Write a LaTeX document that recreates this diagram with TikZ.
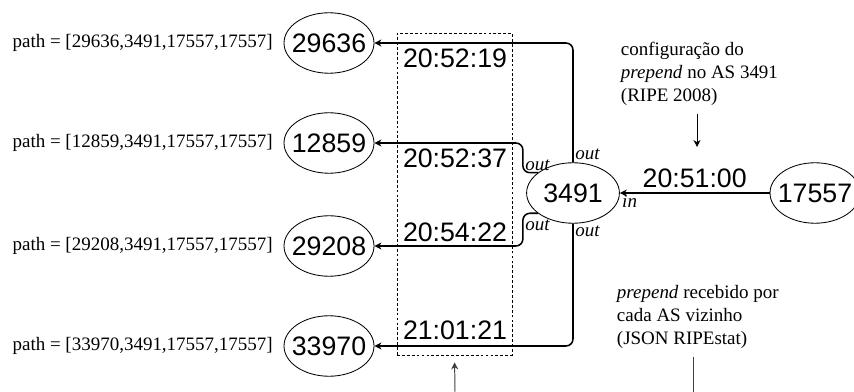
\documentclass[tikz,border=0pt]{standalone}
\usepackage{fontspec}
\setmainfont{Liberation Serif}
\newfontfamily\asfont{Liberation Sans}
\usetikzlibrary{arrows.meta, positioning, shapes.geometric}

\begin{document}
\begin{tikzpicture}[
  x=0.025cm, y=-0.025cm,
  >={Stealth[length=5pt, width=5pt]},
  asnode/.style={ellipse, draw, line width=0.6pt, minimum width=64pt,
    minimum height=43pt, inner xsep=-4pt, inner ysep=0pt,
    font=\asfont\fontsize{19}{21}\selectfont},
  timelabel/.style={font=\asfont\fontsize{19}{21}\selectfont, inner sep=0pt},
  pathlabel/.style={font=\fontsize{13.5}{16}\selectfont, anchor=east, inner sep=0pt},
  port/.style={font=\itshape\fontsize{13.5}{16}\selectfont, inner sep=1.5pt},
  note/.style={font=\fontsize{13.5}{16.4}\selectfont, align=left},
  link/.style={->, line width=1.1pt, rounded corners=5pt},
  pointer/.style={line width=0.7pt},
]

\useasboundingbox (0,0) rectangle (854,392);

% === Neighbour ASes ===
\node[asnode] (as29636) at (329,43) {29636};
\node[asnode] (as12859) at (329,143) {12859};
\node[asnode] (as29208) at (329,246) {29208};
\node[asnode] (as33970) at (329,346) {33970};

% AS paths seen by each neighbour
\node[pathlabel] (p29636) at (273,43) {path = [29636,3491,17557,17557]};
\node[pathlabel] (p12859) at (273,143) {path = [12859,3491,17557,17557]};
\node[pathlabel] (p29208) at (273,246) {path = [29208,3491,17557,17557]};
\node[pathlabel] (p33970) at (273,346) {path = [33970,3491,17557,17557]};

% === Origin and transit ===
\node[asnode, minimum width=66pt] (as3491) at (573,193) {3491};
\node[asnode] (as17557) at (815,193) {17557};

% Time window
\node[draw, dash pattern=on 2pt off 1.5pt, line width=0.5pt, minimum width=81.8pt,
  minimum height=229pt, inner sep=0pt] (window) at (454.5,194) {};

% === Announcements ===
\draw[link] (as17557.west) -- (as3491.east)
  node[midway, above=3pt, timelabel] (t0) {20:51:00};
\node[port, below right] (in) at (as3491.east) {in};

\draw[link] (as3491.north) -- (as3491.north |- as29636.east) -- (as29636.east);
\node[port, above right] at (as3491.north) {out};

\draw[link] (as3491.150) -- ++(-15,0) coordinate (c2) |- (as12859.east);
\node[port, above right] at (c2) {out};

\draw[link] (as3491.210) -- ++(-15,0) coordinate (c3) |- (as29208.east);
\node[port, below right, yshift=-3pt] at (c3) {out};

\draw[link] (as3491.south) -- (as3491.south |- as33970.east) -- (as33970.east);
\node[port, below right] at (as3491.south) {out};

% Timestamps at each neighbour
\node[timelabel] (t1) at (455,58) {20:52:19};
\node[timelabel] (t2) at (455,158) {20:52:37};
\node[timelabel] (t3) at (455,232) {20:54:22};
\node[timelabel] (t4) at (455,330) {21:01:21};

% === Notes ===
\node[note, anchor=west] (cfgnote) at (616,74)
  {configuração do\\\textit{prepend} no AS 3491\\(RIPE 2008)};
\coordinate (cfgtip) at (697,147);
\draw[pointer, ->] (cfgnote.south -| cfgtip) ++(0,3) -- (cfgtip);

\node[note, anchor=west] (rcvnote) at (612,317)
  {\textit{prepend} recebido por\\cada AS vizinho\\(JSON RIPEstat)};
\coordinate (rcvend) at (693,392);
\draw[pointer, black!75] (rcvnote.south -| rcvend) ++(0,3) -- (rcvend);

\coordinate (winbase) at (455,392);
\draw[pointer, ->, black!75, shorten >=5pt] (winbase) -- (window.south);

\end{tikzpicture}
\end{document}
